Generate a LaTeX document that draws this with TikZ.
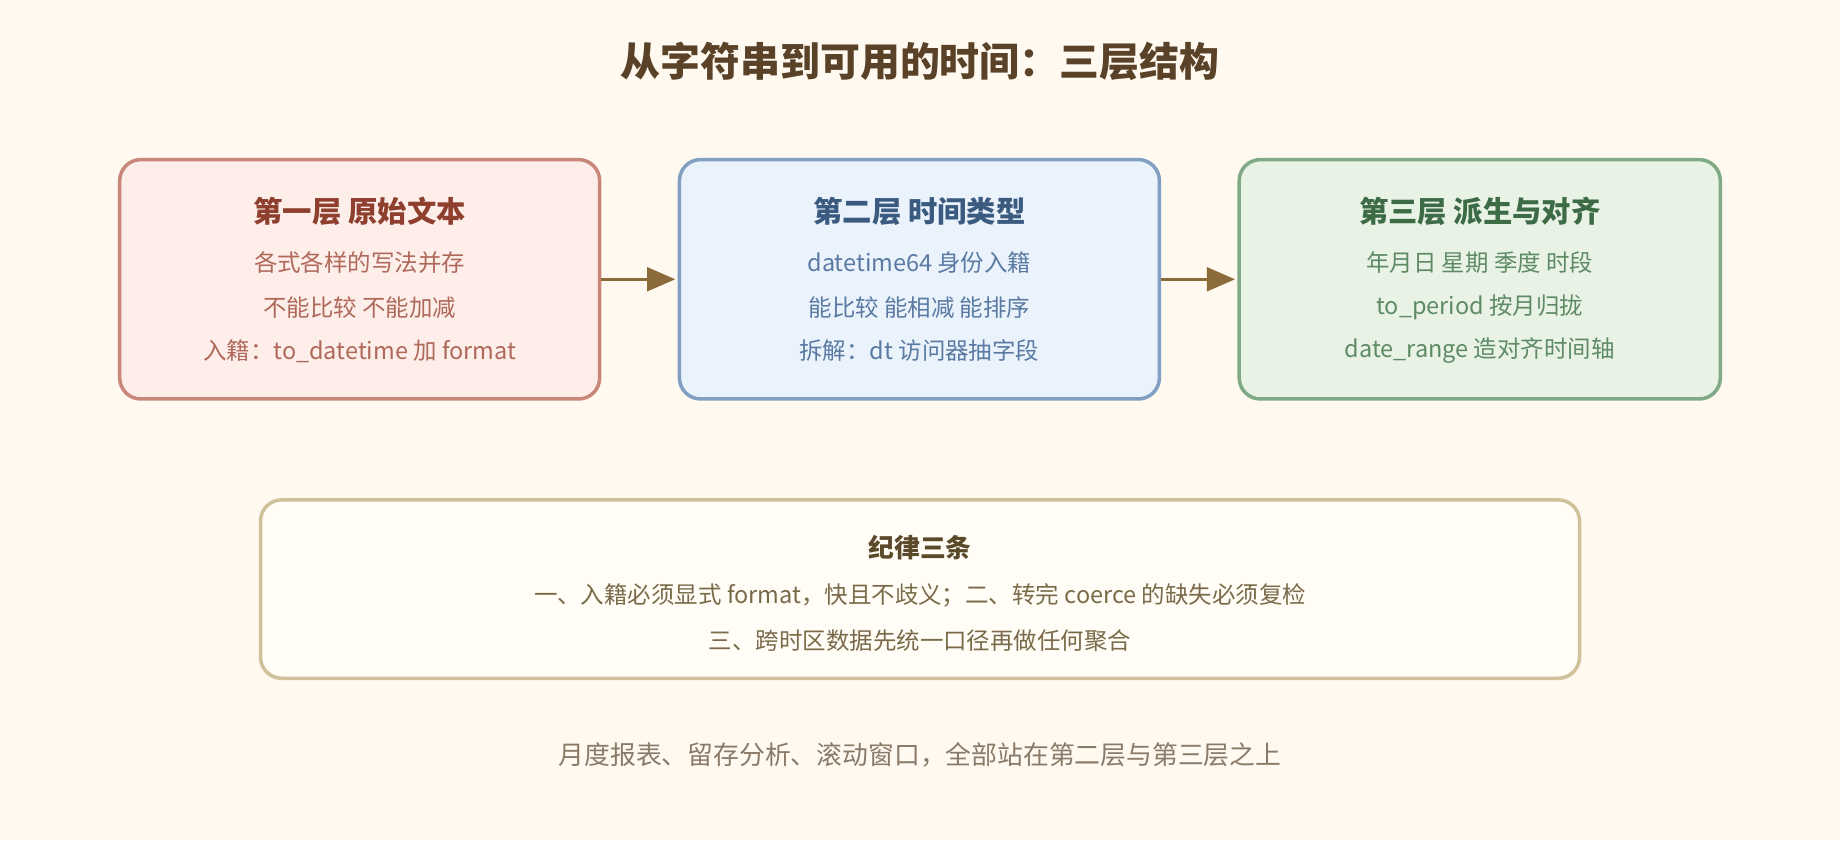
\documentclass[tikz,border=0pt]{standalone}
\usepackage{fontspec}
\setmainfont{Noto Sans CJK SC}
\usetikzlibrary{arrows.meta}
\definecolor{bg}{HTML}{FFF9F0}
\definecolor{ttl}{HTML}{5A4228}
\definecolor{aF}{HTML}{FDEEEA}\definecolor{aB}{HTML}{C9877A}\definecolor{aT}{HTML}{8E3F2E}\definecolor{aX}{HTML}{B0685A}
\definecolor{bF}{HTML}{EAF2FB}\definecolor{bB}{HTML}{809FC3}\definecolor{bT}{HTML}{3A5A80}\definecolor{bX}{HTML}{5A7AA3}
\definecolor{cF}{HTML}{E8F3E6}\definecolor{cB}{HTML}{80AA86}\definecolor{cT}{HTML}{3D6B45}\definecolor{cX}{HTML}{5E8A64}
\definecolor{dF}{HTML}{FFFDF6}\definecolor{dB}{HTML}{CFC29A}\definecolor{dT}{HTML}{5A4A2A}\definecolor{dX}{HTML}{7A6A4A}
\definecolor{ft}{HTML}{8A7A68}\definecolor{arr}{HTML}{8B6B3A}
\begin{document}
\begin{tikzpicture}[x=0.5pt,y=-0.5pt,
  box/.style={draw,line width=1.5pt,rounded corners=9pt},
  bt/.style={font=\fontsize{12.5}{15}\selectfont\bfseries},
  tx/.style={font=\fontsize{10}{12}\selectfont},
  ar/.style={draw=arr,line width=1.5pt,-{Triangle[length=12pt,width=10pt]}}]
\fill[bg] (0,0) rectangle (1568,716);
\node[text=ttl,font=\fontsize{17}{20}\selectfont\bfseries] (title) at (784,52) {从字符串到可用的时间：三层结构};
\node[box,draw=aB,fill=aF,minimum width=204.5pt,minimum height=102pt] (b1) at (306.5,238) {};
\node[box,draw=bB,fill=bF,minimum width=204.5pt,minimum height=102pt] (b2) at (783.5,238) {};
\node[box,draw=cB,fill=cF,minimum width=205pt,minimum height=102pt] (b3) at (1261,238) {};
\node[bt,text=aT] (t1) at (306.5,180) {第一层 原始文本};
\node[tx,text=aX] (l11) at (306.5,224) {各式各样的写法并存};
\node[tx,text=aX] (l12) at (306.5,262) {不能比较 不能加减};
\node[tx,text=aX] (l13) at (306.5,299) {入籍：to\_datetime 加 format};
\node[bt,text=bT] (t2) at (783.5,180) {第二层 时间类型};
\node[tx,text=bX] (l21) at (783.5,224) {datetime64 身份入籍};
\node[tx,text=bX] (l22) at (783.5,262) {能比较 能相减 能排序};
\node[tx,text=bX] (l23) at (783.5,299) {拆解：dt 访问器抽字段};
\node[bt,text=cT] (t3) at (1261,180) {第三层 派生与对齐};
\node[tx,text=cX] (l31) at (1261,224) {年月日 星期 季度 时段};
\node[tx,text=cX] (l32) at (1261,262) {to\_period 按月归拢};
\node[tx,text=cX] (l33) at (1261,299) {date\_range 造对齐时间轴};
\draw[ar] (b1.east) -- ([xshift=-1pt]b2.west);
\draw[ar] (b2.east) -- ([xshift=-1pt]b3.west);
\node[box,draw=dB,fill=dF,minimum width=562pt,minimum height=76pt] (b4) at (784,502) {};
\node[bt,text=dT,font=\fontsize{11}{13}\selectfont\bfseries] (t4) at (784,467) {纪律三条};
\node[tx,text=dX] (l41) at (784,507) {一、入籍必须显式 format，快且不歧义；二、转完 coerce 的缺失必须复检};
\node[tx,text=dX] (l42) at (784,546) {三、跨时区数据先统一口径再做任何聚合};
\node[text=ft,font=\fontsize{11}{13}\selectfont] (foot) at (784,643) {月度报表、留存分析、滚动窗口，全部站在第二层与第三层之上};
\end{tikzpicture}
\end{document}
